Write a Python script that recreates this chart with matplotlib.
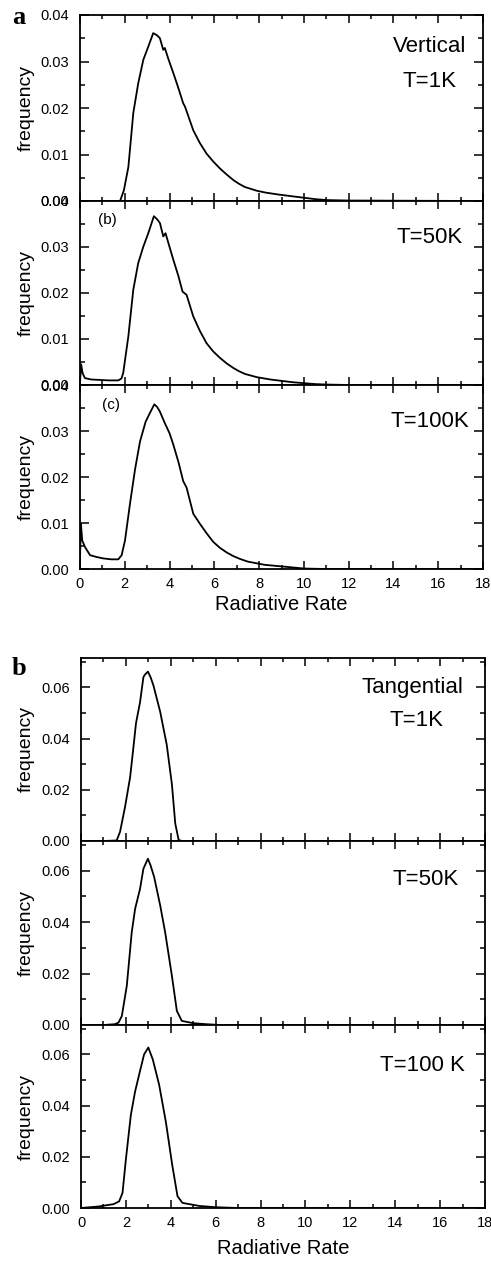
import matplotlib
matplotlib.use("Agg")
import matplotlib.pyplot as plt
from matplotlib.ticker import MultipleLocator, FormatStrFormatter

plt.rcParams['font.family'] = ['Liberation Sans', 'DejaVu Sans']

# ---------------- data ----------------
# Group a: Vertical
a1_x = [0.0, 1.70, 1.79, 1.96, 2.16, 2.38, 2.60, 2.83, 3.05, 3.27, 3.45, 3.57, 3.72, 3.79, 3.95,
        4.17, 4.40, 4.61, 4.69, 5.06, 5.35, 5.65, 5.95, 6.25, 6.55, 6.85, 7.10, 7.37, 7.90, 8.30,
        8.85, 9.50, 10.0, 10.5, 11.0, 12.0, 18.0]
a1_y = [0.0, 0.0, 0.0, 0.0023, 0.0073, 0.0189, 0.0253, 0.0304, 0.0332, 0.0361, 0.0356, 0.0350,
        0.0325, 0.0329, 0.0305, 0.0275, 0.0242, 0.0210, 0.0203, 0.0152, 0.0125, 0.0102, 0.0085,
        0.0070, 0.0057, 0.0045, 0.0037, 0.0030, 0.0022, 0.0018, 0.0014, 0.0010, 0.0007, 0.0004,
        0.0002, 0.0001, 0.0]

a2_x = [0.0, 0.05, 0.12, 0.22, 0.50, 0.89, 1.30, 1.71, 1.85, 1.93, 2.16, 2.38, 2.60, 2.83, 3.05,
        3.30, 3.45, 3.57, 3.72, 3.82, 4.00, 4.17, 4.40, 4.58, 4.76, 5.06, 5.35, 5.65, 5.95, 6.25,
        6.55, 6.85, 7.10, 7.37, 7.90, 8.50, 9.00, 9.50, 10.0, 10.5, 11.0, 12.0, 18.0]
a2_y = [0.0005, 0.0045, 0.0025, 0.0015, 0.0012, 0.0011, 0.0010, 0.0010, 0.0014, 0.0026, 0.0106,
        0.0207, 0.0265, 0.0301, 0.0330, 0.0367, 0.0360, 0.0352, 0.0323, 0.0330, 0.0300, 0.0272,
        0.0236, 0.0203, 0.0196, 0.0149, 0.0118, 0.0091, 0.0073, 0.0059, 0.0047, 0.0037, 0.0030,
        0.0024, 0.0017, 0.0012, 0.0009, 0.0006, 0.0004, 0.0002, 0.0001, 0.0, 0.0]

a3_x = [0.0, 0.04, 0.10, 0.22, 0.45, 0.75, 1.04, 1.40, 1.71, 1.86, 2.01, 2.23, 2.46, 2.68, 2.93,
        3.10, 3.32, 3.45, 3.57, 3.79, 4.00, 4.17, 4.40, 4.61, 4.76, 5.06, 5.36, 5.65, 5.95, 6.25,
        6.55, 6.85, 7.14, 7.50, 8.26, 9.15, 10.0, 11.0, 18.0]
a3_y = [0.0020, 0.0098, 0.0062, 0.0048, 0.0030, 0.0026, 0.0023, 0.0021, 0.0021, 0.0030, 0.0062,
        0.0141, 0.0217, 0.0277, 0.0320, 0.0337, 0.0358, 0.0352, 0.0342, 0.0317, 0.0295, 0.0270,
        0.0232, 0.0191, 0.0177, 0.0120, 0.0098, 0.0078, 0.0059, 0.0046, 0.0036, 0.0028, 0.0022,
        0.0016, 0.0009, 0.0005, 0.0001, 0.0, 0.0]

# Group b: Tangential
b1_x = [0.0, 1.00, 1.59, 1.74, 1.96, 2.19, 2.34, 2.45, 2.63, 2.78, 2.85, 2.98, 3.10, 3.23, 3.53,
        3.82, 4.05, 4.20, 4.35, 4.50, 18.0]
b1_y = [0.0, 0.0, 0.0002, 0.0036, 0.0132, 0.0250, 0.0370, 0.0460, 0.0542, 0.0640, 0.0650, 0.0662,
        0.0640, 0.0607, 0.0504, 0.0376, 0.0222, 0.0068, 0.0004, 0.0, 0.0]

b2_x = [0.0, 1.00, 1.50, 1.67, 1.82, 2.04, 2.26, 2.41, 2.63, 2.78, 2.98, 3.10, 3.26, 3.53, 3.75,
        4.05, 4.27, 4.49, 5.00, 5.60, 6.20, 18.0]
b2_y = [0.0, 0.0, 0.0003, 0.0009, 0.0035, 0.0152, 0.0360, 0.0451, 0.0529, 0.0607, 0.0646, 0.0620,
        0.0575, 0.0464, 0.0360, 0.0191, 0.0055, 0.0016, 0.0007, 0.0003, 0.0, 0.0]

b3_x = [0.0, 0.40, 0.80, 1.15, 1.45, 1.70, 1.85, 2.00, 2.22, 2.41, 2.59, 2.81, 3.00, 3.20, 3.48,
        3.78, 4.07, 4.30, 4.52, 5.27, 6.00, 7.00, 18.0]
b3_y = [0.0, 0.0003, 0.0006, 0.0011, 0.0015, 0.0026, 0.0059, 0.0190, 0.0363, 0.0455, 0.0521,
        0.0600, 0.0627, 0.0580, 0.0482, 0.0337, 0.0165, 0.0046, 0.0020, 0.0008, 0.0003, 0.0, 0.0]

x_ticks = [0, 2, 4, 6, 8, 10, 12, 14, 16, 18]
a_labels = ["T=1K", "T=50K", "T=100K"]
b_labels = ["T=1K", "T=50K", "T=100 K"]

W, H = 491, 1262
fig = plt.figure(figsize=(W / 100, H / 100), dpi=100)


def rect(left, right, top, bottom):
    return [left / W, 1 - bottom / H, (right - left) / W, (bottom - top) / H]


def style(ax, ymax, ymaj, ymin, show_x):
    ax.set_xlim(0, 18)
    ax.set_ylim(0, ymax)
    ax.set_xticks(x_ticks)
    ax.xaxis.set_minor_locator(MultipleLocator(1))
    ax.yaxis.set_major_locator(MultipleLocator(ymaj))
    ax.yaxis.set_minor_locator(MultipleLocator(ymin))
    ax.yaxis.set_major_formatter(FormatStrFormatter('%.2f'))
    ax.tick_params(axis='both', which='both', direction='in', top=True, right=True,
                   labelsize=10.5, width=1.1, color='black')
    ax.tick_params(axis='x', which='major', length=5.5, pad=6)
    ax.tick_params(axis='x', which='minor', length=3)
    ax.tick_params(axis='y', which='major', length=6.5, pad=8)
    ax.tick_params(axis='y', which='minor', length=3.5)
    if not show_x:
        ax.tick_params(axis='x', labelbottom=False)
    for s in ax.spines.values():
        s.set_linewidth(1.3)


# ---------------- group a ----------------
a_rows = [(15, 201), (201, 385), (385, 569)]
a_data = [(a1_x, a1_y), (a2_x, a2_y), (a3_x, a3_y)]
a_ty = [0.64, 0.80, 0.80]
for i, ((t, b), (xs, ys)) in enumerate(zip(a_rows, a_data)):
    ax = fig.add_axes(rect(80, 483, t, b))
    ax.plot(xs, ys, color='black', lw=1.3)
    style(ax, 0.04, 0.01, 0.005, i == 2)
    ax.text(0.868, a_ty[i], a_labels[i], transform=ax.transAxes, ha='center', va='center',
            fontsize=16)
    fig.text(26 / W, 1 - (t + b) / 2 / H, "frequency", rotation=90, ha='center', va='center',
             fontsize=14)
    if i == 0:
        ax.text(0.868, 0.833, "Vertical", transform=ax.transAxes, ha='center', va='center',
                fontsize=16)
    if i == 1:
        ax.text(0.045, 0.897, "(b)", transform=ax.transAxes, ha='left', va='center', fontsize=11)
    if i == 2:
        ax.text(0.055, 0.89, "(c)", transform=ax.transAxes, ha='left', va='center', fontsize=11)

fig.text(281 / W, 1 - 605 / H, "Radiative Rate", ha='center', va='center', fontsize=14.5)
fig.text(19 / W, 1 - 17 / H, "a", ha='center', va='center', fontsize=19, fontweight='bold',
         family='Liberation Serif')

# ---------------- group b ----------------
b_rows = [(658, 841), (841, 1025), (1025, 1208)]
b_data = [(b1_x, b1_y), (b2_x, b2_y), (b3_x, b3_y)]
b_tx = [0.83, 0.854, 0.844]
b_ty = [0.66, 0.79, 0.78]
for i, ((t, b), (xs, ys)) in enumerate(zip(b_rows, b_data)):
    ax = fig.add_axes(rect(81, 485, t, b))
    ax.plot(xs, ys, color='black', lw=1.3)
    style(ax, 0.0715, 0.02, 0.01, i == 2)
    ax.text(b_tx[i], b_ty[i], b_labels[i], transform=ax.transAxes, ha='center', va='center',
            fontsize=16)
    fig.text(26 / W, 1 - (t + b) / 2 / H, "frequency", rotation=90, ha='center', va='center',
             fontsize=14)
    if i == 0:
        ax.text(0.82, 0.84, "Tangential", transform=ax.transAxes, ha='center', va='center',
                fontsize=16)

fig.text(283 / W, 1 - 1248 / H, "Radiative Rate", ha='center', va='center', fontsize=14.5)
fig.text(19 / W, 1 - 668 / H, "b", ha='center', va='center', fontsize=19, fontweight='bold',
         family='Liberation Serif')

fig.savefig("out.png", dpi=100)
